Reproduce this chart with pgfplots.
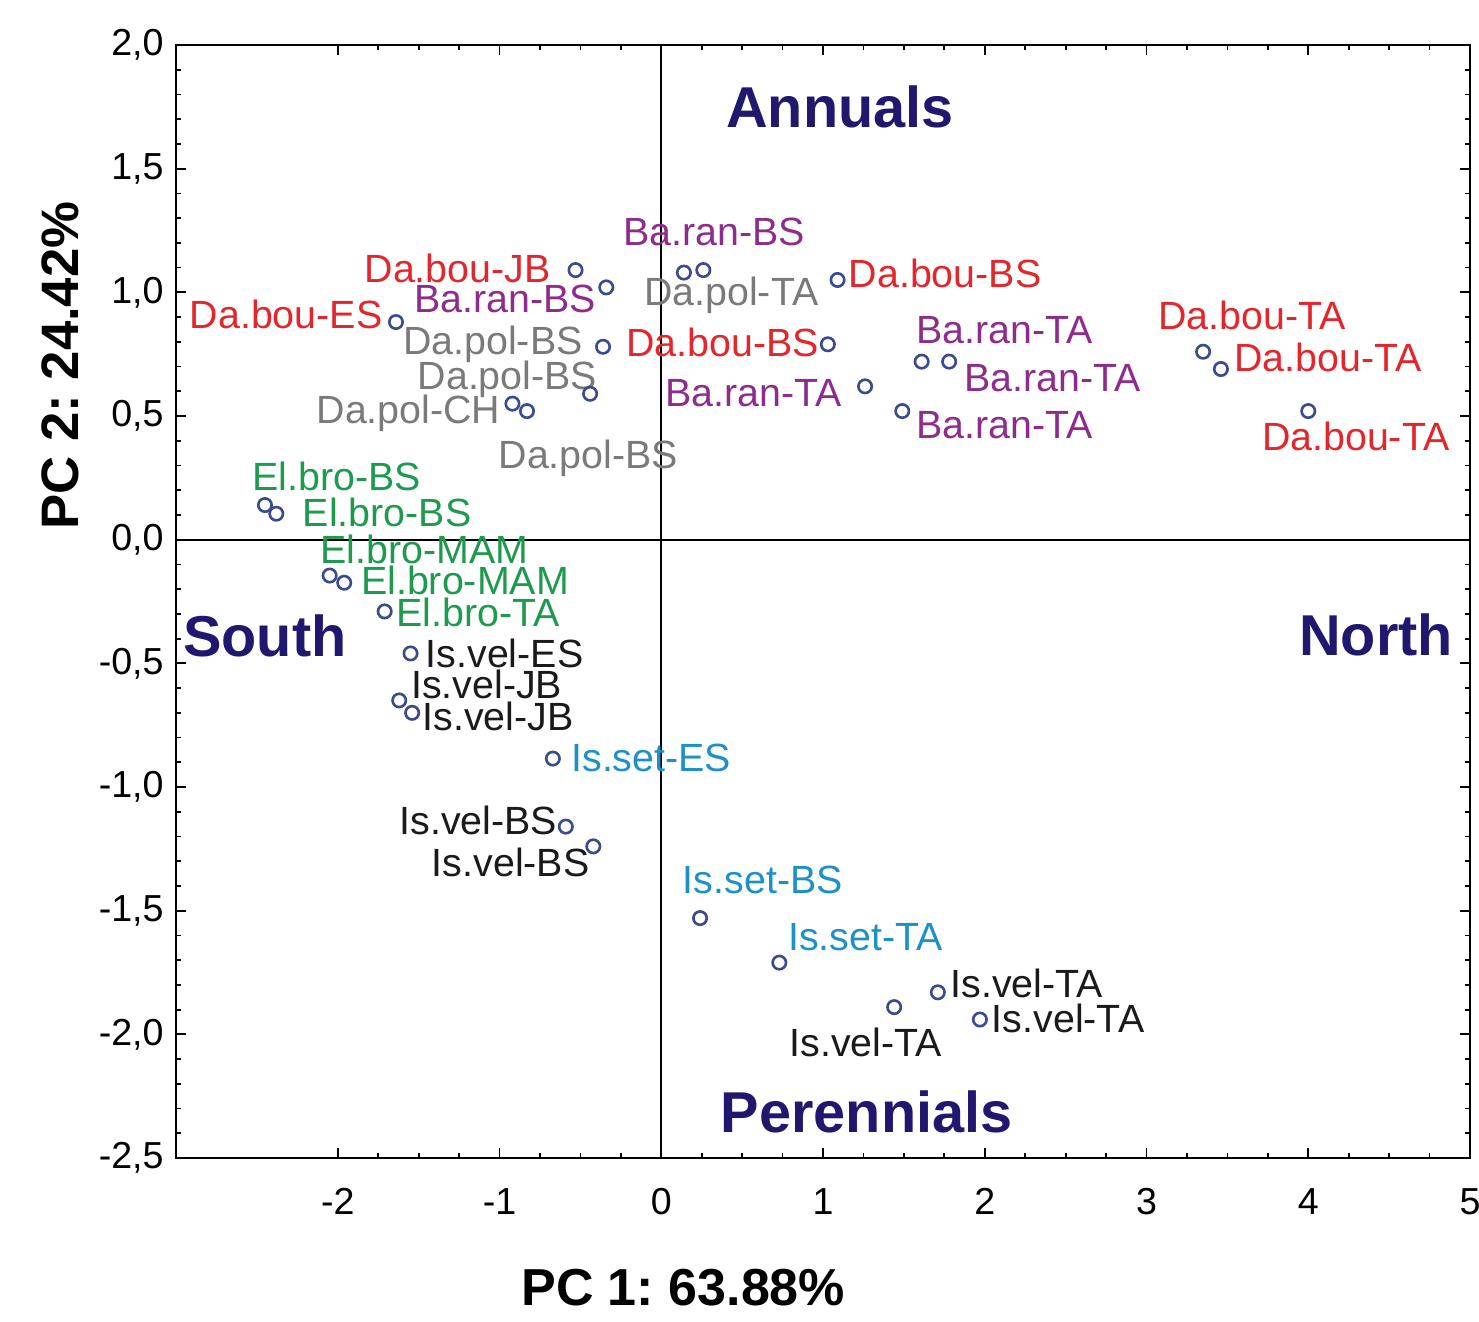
\documentclass[border=0pt]{standalone}
\usepackage{fontspec}
\setmainfont{Liberation Sans}
\usepackage{pgfplots}
\pgfplotsset{compat=1.18}
\definecolor{cred}{HTML}{E3262B}
\definecolor{cpur}{HTML}{8E2C8C}
\definecolor{cgray}{HTML}{7A7A7A}
\definecolor{cgreen}{HTML}{1E9A4F}
\definecolor{cblack}{HTML}{1A1A1A}
\definecolor{cblue}{HTML}{1E90C8}
\definecolor{cmark}{HTML}{3B4B8F}
\definecolor{cnavy}{HTML}{20186E}
\begin{document}
\frenchspacing
\begin{tikzpicture}
\tikzset{lbl/.style={font=\fontsize{11.2pt}{13pt}\selectfont, inner sep=0pt, text height=0.72em, text depth=0pt},
 reg/.style={font=\fontsize{16.4pt}{18pt}\selectfont\bfseries, text=cnavy, inner sep=0pt}}
\begin{axis}[
  width=12.94cm, height=11.13cm, scale only axis,
  xmin=-3, xmax=5, ymin=-2.5, ymax=2.0,
  xtick={-2,-1,0,1,2,3,4,5},
  ytick={-2.5,-2,-1.5,-1,-0.5,0,0.5,1,1.5,2},
  minor x tick num=3, minor y tick num=4,
  major tick length=0.1cm, minor tick length=0.05cm,
  tick style={black, line width=0.5pt},
  axis line style={black, line width=0.6pt},
  /pgf/number format/assume math mode=true,
  yticklabel style={/pgf/number format/.cd, use comma, fixed, fixed zerofill, precision=1},
  ticklabel style={font=\fontsize{10.7pt}{12pt}\selectfont},
  xticklabel style={yshift=-0.18cm},
  xlabel={PC 1: 63.88\%},
  ylabel={PC 2: 24.42\%},
  xlabel style={font=\fontsize{14.8pt}{16pt}\selectfont\bfseries, at={(axis description cs:0.392,-0.116)}, anchor=center},
  ylabel style={font=\fontsize{15pt}{16pt}\selectfont\bfseries, at={(axis description cs:-0.0896,0.712)}, anchor=center},
  clip=false,
]
\addplot[black, line width=0.6pt, no markers] coordinates {(0,-2.5) (0,2)};
\addplot[black, line width=0.6pt, no markers] coordinates {(-3,0) (5,0)};
\addplot[only marks, mark=o, mark size=1.9pt, mark options={draw=cmark, line width=0.75pt}] table[row sep=\\] {
x y\\
-0.53 1.09\\
-0.34 1.02\\
-1.64 0.88\\
-0.36 0.78\\
-0.44 0.59\\
-0.92 0.55\\
-0.83 0.52\\
0.14 1.08\\
0.26 1.09\\
1.09 1.05\\
1.03 0.79\\
1.26 0.62\\
1.61 0.72\\
1.78 0.72\\
1.49 0.52\\
3.35 0.76\\
3.46 0.69\\
4.00 0.52\\
-2.45 0.14\\
-2.38 0.105\\
-2.05 -0.145\\
-1.96 -0.174\\
-1.71 -0.29\\
-1.55 -0.46\\
-1.62 -0.65\\
-1.54 -0.70\\
-0.67 -0.885\\
-0.59 -1.16\\
-0.42 -1.24\\
0.24 -1.53\\
0.73 -1.71\\
1.44 -1.89\\
1.71 -1.83\\
1.97 -1.94\\
};
% labels
\node[lbl, anchor=east, text=cred] at (axis cs:-0.68,1.09) {Da.bou-JB};
\node[lbl, anchor=east, text=cpur] at (axis cs:-0.40,0.97) {Ba.ran-BS};
\node[lbl, anchor=east, text=cred] at (axis cs:-1.72,0.905) {Da.bou-ES};
\node[lbl, anchor=west, text=cgray] at (axis cs:-1.60,0.80) {Da.pol-BS};
\node[lbl, anchor=west, text=cgray] at (axis cs:-1.51,0.66) {Da.pol-BS};
\node[lbl, anchor=east, text=cgray] at (axis cs:-0.99,0.52) {Da.pol-CH};
\node[lbl, anchor=west, text=cgray] at (axis cs:-1.01,0.34) {Da.pol-BS};
\node[lbl, anchor=west, text=cpur] at (axis cs:-0.24,1.24) {Ba.ran-BS};
\node[lbl, anchor=west, text=cgray] at (axis cs:-0.11,1.00) {Da.pol-TA};
\node[lbl, anchor=west, text=cred] at (axis cs:1.155,1.07) {Da.bou-BS};
\node[lbl, anchor=east, text=cred] at (axis cs:0.98,0.79) {Da.bou-BS};
\node[lbl, anchor=east, text=cpur] at (axis cs:1.12,0.59) {Ba.ran-TA};
\node[lbl, anchor=west, text=cpur] at (axis cs:1.575,0.845) {Ba.ran-TA};
\node[lbl, anchor=west, text=cpur] at (axis cs:1.87,0.65) {Ba.ran-TA};
\node[lbl, anchor=west, text=cpur] at (axis cs:1.575,0.46) {Ba.ran-TA};
\node[lbl, anchor=west, text=cred] at (axis cs:3.07,0.90) {Da.bou-TA};
\node[lbl, anchor=west, text=cred] at (axis cs:3.54,0.73) {Da.bou-TA};
\node[lbl, anchor=west, text=cred] at (axis cs:3.71,0.41) {Da.bou-TA};
\node[lbl, anchor=west, text=cgreen] at (axis cs:-2.53,0.25) {El.bro-BS};
\node[lbl, anchor=west, text=cgreen] at (axis cs:-2.22,0.105) {El.bro-BS};
\node[lbl, anchor=west, text=cgreen] at (axis cs:-2.11,-0.045) {El.bro-MAM};
\node[lbl, anchor=west, text=cgreen] at (axis cs:-1.86,-0.17) {El.bro-MAM};
\node[lbl, anchor=west, text=cgreen] at (axis cs:-1.64,-0.30) {El.bro-TA};
\node[lbl, anchor=west, text=cblack] at (axis cs:-1.46,-0.465) {Is.vel-ES};
\node[lbl, anchor=west, text=cblack] at (axis cs:-1.55,-0.59) {Is.vel-JB};
\node[lbl, anchor=west, text=cblack] at (axis cs:-1.48,-0.72) {Is.vel-JB};
\node[lbl, anchor=west, text=cblue] at (axis cs:-0.56,-0.885) {Is.set-ES};
\node[lbl, anchor=east, text=cblack] at (axis cs:-0.64,-1.14) {Is.vel-BS};
\node[lbl, anchor=east, text=cblack] at (axis cs:-0.44,-1.31) {Is.vel-BS};
\node[lbl, anchor=west, text=cblue] at (axis cs:0.13,-1.38) {Is.set-BS};
\node[lbl, anchor=west, text=cblue] at (axis cs:0.78,-1.61) {Is.set-TA};
\node[lbl, anchor=west, text=cblack] at (axis cs:1.785,-1.80) {Is.vel-TA};
\node[lbl, anchor=west, text=cblack] at (axis cs:2.04,-1.94) {Is.vel-TA};
\node[lbl, anchor=west, text=cblack] at (axis cs:0.79,-2.04) {Is.vel-TA};
% region labels
\node[reg] at (axis cs:1.105,1.75) {Annuals};
\node[reg] at (axis cs:-2.45,-0.39) {South};
\node[reg] at (axis cs:4.42,-0.385) {North};
\node[reg] at (axis cs:1.27,-2.315) {Perennials};
\end{axis}
\pgfresetboundingbox
\useasboundingbox (-1.76,-1.63) rectangle (13.03,11.58);
\end{tikzpicture}
\end{document}
